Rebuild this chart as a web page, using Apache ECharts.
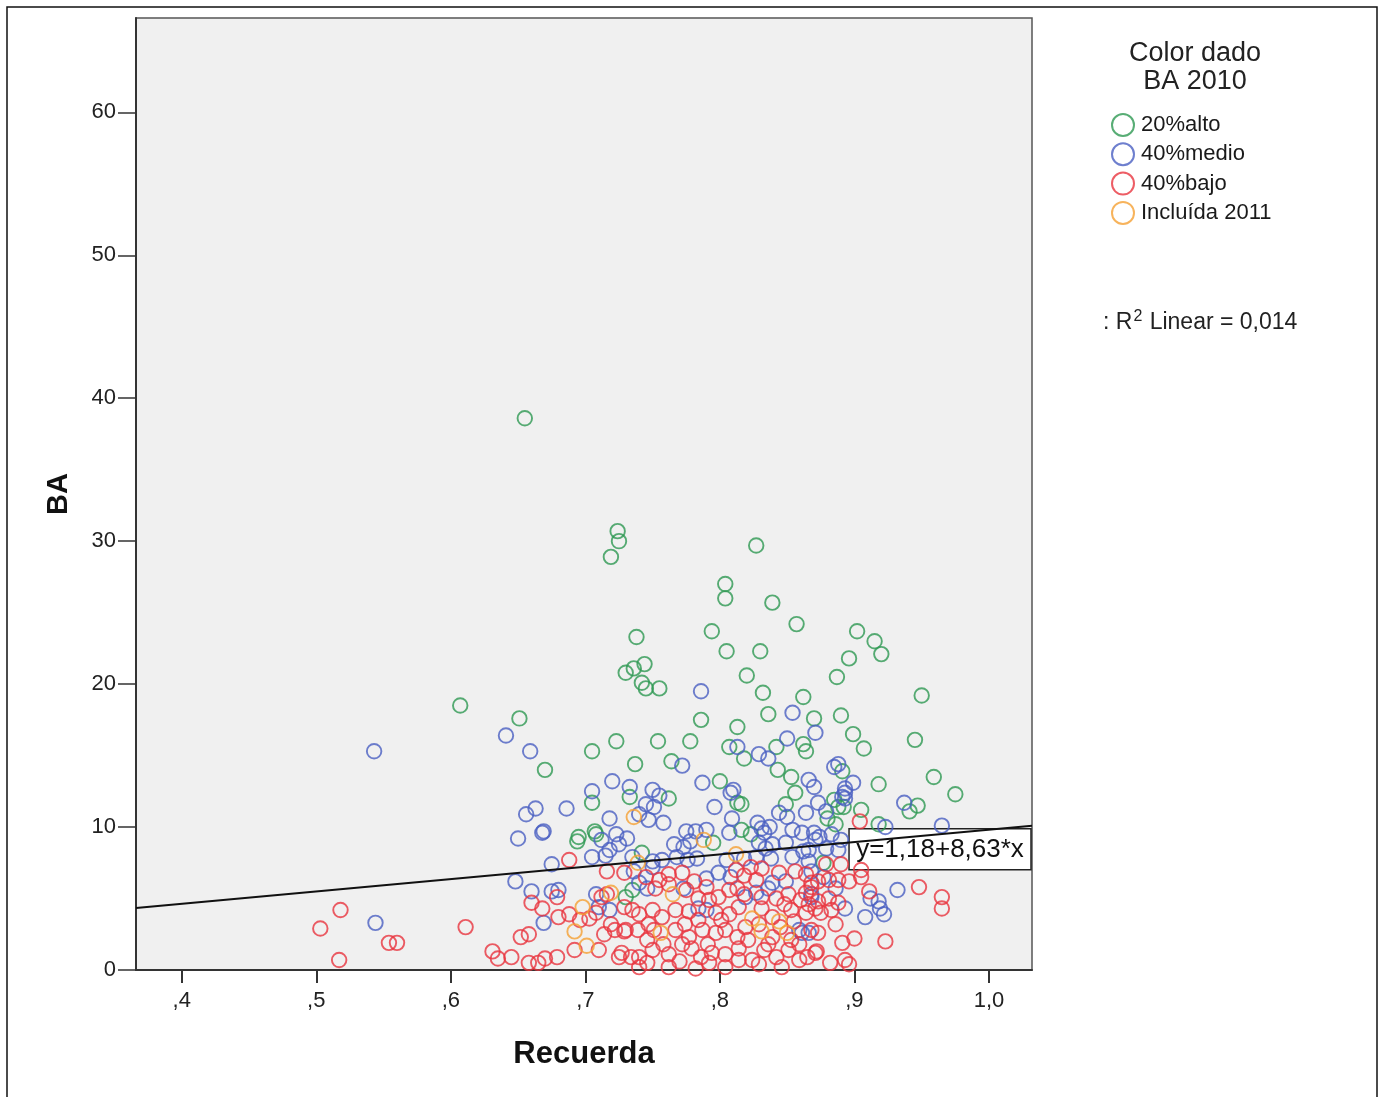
<!DOCTYPE html>
<html>
<head>
<meta charset="utf-8">
<script src="https://cdn.jsdelivr.net/npm/echarts/dist/echarts.min.js"></script>
<style>
  html, body { margin: 0; padding: 0; background: #ffffff; }
  #chart { width: 1383px; height: 1097px; }
</style>
</head>
<body>
<div id="chart"></div>
<script>
// Axis ticks and labels (Spanish decimal comma)
const xTicks = [0.4, 0.5, 0.6, 0.7, 0.8, 0.9, 1.0];
const xTickLabels = [',4', ',5', ',6', ',7', ',8', ',9', '1,0'];
const yTicks = [0, 10, 20, 30, 40, 50, 60];
const xRange = [0.366, 1.032];
const yRange = [0, 66.6];

// Groups by BA 2010
const seriesNames = ['20%alto', '40%medio', '40%bajo', 'Incluída 2011'];
const seriesColors = ['#2e9852', '#4a5fc2', '#e9353f', '#f5a033'];

// Recuerda (x) vs BA (y)
const altoPts = [
  [0.655,38.6],[0.724,30.7],[0.725,30.0],[0.719,28.9],[0.827,29.7],[0.804,27.0],[0.804,26.0],[0.839,25.7],
  [0.857,24.2],[0.794,23.7],[0.902,23.7],[0.915,23.0],[0.920,22.1],[0.738,23.3],[0.805,22.3],[0.830,22.3],
  [0.896,21.8],[0.820,20.6],[0.730,20.8],[0.736,21.1],[0.744,21.4],[0.742,20.1],[0.745,19.7],[0.755,19.7],
  [0.887,20.5],[0.832,19.4],[0.862,19.1],[0.950,19.2],[0.607,18.5],[0.651,17.6],[0.836,17.9],[0.890,17.8],
  [0.870,17.6],[0.786,17.5],[0.813,17.0],[0.723,16.0],[0.754,16.0],[0.778,16.0],[0.899,16.5],[0.907,15.5],
  [0.945,16.1],[0.807,15.6],[0.818,14.8],[0.842,15.6],[0.862,15.8],[0.864,15.3],[0.705,15.3],[0.670,14.0],
  [0.737,14.4],[0.764,14.6],[0.843,14.0],[0.853,13.5],[0.891,13.9],[0.959,13.5],[0.975,12.3],[0.918,13.0],
  [0.800,13.2],[0.856,12.4],[0.705,11.7],[0.733,12.1],[0.762,12.0],[0.813,11.7],[0.816,11.6],[0.885,11.9],
  [0.888,11.4],[0.849,11.6],[0.880,10.6],[0.886,10.2],[0.892,11.4],[0.905,11.2],[0.941,11.1],[0.947,11.5],
  [0.918,10.2],[0.695,9.3],[0.707,9.7],[0.816,9.8],[0.823,9.5],[0.795,8.9],[0.742,8.2],[0.877,7.5],
  [0.730,5.1],[0.735,5.6],[0.694,9.0],[0.708,9.5]
];

const medioPts = [
  [0.543,15.3],[0.641,16.4],[0.659,15.3],[0.656,10.9],[0.663,11.3],[0.650,9.2],[0.668,9.6],[0.675,7.4],
  [0.648,6.2],[0.660,5.5],[0.675,5.5],[0.680,5.6],[0.669,3.3],[0.544,3.3],[0.712,9.1],[0.723,9.5],
  [0.731,9.2],[0.725,8.8],[0.705,7.9],[0.715,8.0],[0.718,8.4],[0.708,5.3],[0.710,4.4],[0.718,4.2],
  [0.772,14.3],[0.787,13.1],[0.720,13.2],[0.705,12.5],[0.733,12.8],[0.750,12.6],[0.755,12.2],[0.745,11.6],
  [0.751,11.4],[0.740,10.9],[0.747,10.5],[0.758,10.3],[0.718,10.6],[0.686,11.3],[0.669,9.7],[0.775,9.7],
  [0.782,9.7],[0.786,19.5],[0.854,18.0],[0.871,16.6],[0.813,15.6],[0.850,16.2],[0.829,15.1],[0.836,14.8],
  [0.808,12.4],[0.810,12.6],[0.866,13.3],[0.870,12.8],[0.885,14.2],[0.893,12.7],[0.891,12.1],[0.888,14.4],
  [0.899,13.1],[0.893,12.4],[0.937,11.7],[0.796,11.4],[0.809,10.6],[0.844,11.0],[0.850,10.7],[0.864,11.0],
  [0.873,11.7],[0.879,11.1],[0.828,10.3],[0.831,9.9],[0.837,10.0],[0.833,9.6],[0.854,9.8],[0.861,9.6],
  [0.870,9.6],[0.874,9.3],[0.807,9.6],[0.790,9.8],[0.965,10.1],[0.923,10.0],[0.893,12.0],[0.766,8.8],
  [0.773,8.6],[0.778,9.0],[0.829,8.9],[0.834,8.5],[0.839,8.8],[0.849,8.9],[0.871,9.1],[0.735,7.9],
  [0.750,7.6],[0.757,7.7],[0.768,7.9],[0.776,7.7],[0.783,7.8],[0.805,7.7],[0.818,7.8],[0.827,7.9],
  [0.838,7.8],[0.854,7.9],[0.862,8.3],[0.736,6.9],[0.750,7.2],[0.790,6.4],[0.799,6.8],[0.808,6.5],
  [0.839,6.1],[0.849,6.2],[0.868,6.9],[0.740,6.1],[0.746,5.7],[0.773,5.7],[0.819,5.1],[0.827,5.4],
  [0.836,5.7],[0.868,5.1],[0.784,4.3],[0.790,4.2],[0.861,2.6],[0.866,8.4],[0.879,8.5],[0.888,8.4],
  [0.866,7.6],[0.877,6.5],[0.886,5.7],[0.868,5.3],[0.893,4.3],[0.859,2.8],[0.866,2.6],[0.932,5.6],
  [0.912,5.0],[0.918,4.8],[0.908,3.7],[0.922,3.9],[0.919,4.3],[0.883,9.5],[0.890,9.1]
];

const bajoPts = [
  [0.518,4.2],[0.503,2.9],[0.554,1.9],[0.560,1.9],[0.517,0.7],[0.611,3.0],[0.652,2.3],[0.658,2.5],
  [0.631,1.3],[0.635,0.8],[0.645,0.9],[0.658,0.5],[0.665,0.5],[0.670,0.8],[0.679,0.9],[0.660,4.7],
  [0.668,4.3],[0.688,7.7],[0.716,6.9],[0.729,6.8],[0.679,5.1],[0.680,3.7],[0.688,3.9],[0.696,3.5],
  [0.703,3.6],[0.712,5.1],[0.716,5.3],[0.708,4.0],[0.692,1.4],[0.722,2.8],[0.729,2.7],[0.725,0.9],
  [0.734,0.9],[0.745,6.5],[0.762,6.7],[0.772,6.8],[0.781,6.2],[0.812,7.0],[0.823,7.2],[0.831,7.1],
  [0.844,6.8],[0.856,6.9],[0.868,6.1],[0.752,5.7],[0.762,6.0],[0.775,5.6],[0.790,5.8],[0.799,5.1],
  [0.807,5.6],[0.813,5.7],[0.831,5.1],[0.842,5.0],[0.851,5.3],[0.864,5.4],[0.729,4.4],[0.735,4.2],
  [0.740,3.9],[0.750,4.2],[0.757,3.7],[0.767,4.2],[0.777,4.1],[0.797,4.0],[0.807,3.9],[0.814,4.4],
  [0.831,4.3],[0.839,3.7],[0.853,4.2],[0.864,4.0],[0.871,4.3],[0.730,2.8],[0.739,2.8],[0.747,3.2],
  [0.767,2.8],[0.777,2.3],[0.787,2.8],[0.797,2.6],[0.804,2.8],[0.813,2.3],[0.819,3.0],[0.839,2.3],
  [0.853,2.1],[0.868,2.8],[0.727,1.2],[0.740,0.9],[0.750,1.4],[0.762,1.1],[0.770,0.6],[0.779,1.5],
  [0.786,0.9],[0.794,1.2],[0.804,1.1],[0.814,1.5],[0.824,0.7],[0.833,1.4],[0.842,0.9],[0.851,1.4],
  [0.859,0.7],[0.871,1.2],[0.740,0.2],[0.762,0.2],[0.782,0.1],[0.804,0.2],[0.829,0.4],[0.846,0.2],
  [0.864,6.7],[0.868,5.8],[0.873,6.2],[0.881,6.3],[0.888,6.3],[0.896,6.2],[0.905,6.5],[0.890,7.4],
  [0.879,7.4],[0.860,4.9],[0.866,4.6],[0.873,4.8],[0.881,5.0],[0.888,4.7],[0.875,4.0],[0.883,4.2],
  [0.873,2.6],[0.886,3.2],[0.859,1.8],[0.872,1.3],[0.891,1.9],[0.900,2.2],[0.882,0.5],[0.893,0.7],
  [0.911,5.5],[0.948,5.8],[0.965,5.1],[0.965,4.3],[0.923,2.0],[0.904,10.4],[0.905,7.0],[0.784,5.0],
  [0.818,6.6],[0.827,6.3],[0.755,6.3],[0.719,3.2],[0.746,2.1],[0.758,1.8],[0.772,1.8],[0.791,1.8],
  [0.801,3.5],[0.821,2.1],[0.829,3.2],[0.845,3.0],[0.855,3.4],[0.784,3.5],[0.774,3.2],[0.792,4.9],
  [0.818,5.3],[0.848,4.6],[0.751,2.8],[0.714,2.5],[0.710,1.4],[0.746,0.5],[0.792,0.5],[0.814,0.7],
  [0.836,1.8],[0.865,0.9],[0.896,0.4]
];

const incluidaPts = [
  [0.736,10.7],[0.788,9.1],[0.812,8.1],[0.739,7.5],[0.765,5.3],[0.698,4.4],[0.719,5.4],[0.692,2.7],
  [0.701,1.7],[0.756,2.6],[0.824,3.6],[0.844,3.4],[0.831,2.7],[0.850,2.6]
];

// Linear fit
const fitIntercept = 1.18;
const fitSlope = 8.63;
const r2Linear = 0.014;

const FONT = '"Liberation Sans", Arial, sans-serif';
const fmtComma = (v, d) => v.toFixed(d).replace('.', ',');
const fitAt = x => fitIntercept + fitSlope * x;

const chart = echarts.init(document.getElementById('chart'), null, { renderer: 'canvas' });

const pointSets = [altoPts, medioPts, bajoPts, incluidaPts];
const scatterSeries = pointSets.map((pts, i) => ({
  name: seriesNames[i],
  type: 'scatter',
  data: pts,
  symbol: 'circle',
  symbolSize: 14.5,
  itemStyle: { color: 'transparent', borderColor: seriesColors[i], borderWidth: 1.9 },
  emphasis: { disabled: true },
  z: 2 + i
}));

const staticGraphics = [
  { type: 'rect', shape: { x: 7, y: 7, width: 1370, height: 1100 },
    style: { fill: 'none', stroke: '#111', lineWidth: 1.5 }, silent: true },
  { type: 'text', x: 1195, y: 54,
    style: { text: 'Color dado', fontSize: 27, fill: '#222', fontFamily: FONT, align: 'center', verticalAlign: 'middle' } },
  { type: 'text', x: 1195, y: 82,
    style: { text: 'BA 2010', fontSize: 27, fill: '#222', fontFamily: FONT, align: 'center', verticalAlign: 'middle' } },
  { type: 'text', x: 1103, y: 323,
    style: {
      text: '{a|: R}{s|2}{a| Linear = ' + fmtComma(r2Linear, 3) + '}',
      verticalAlign: 'middle',
      rich: {
        a: { fontSize: 23, fill: '#222', fontFamily: FONT },
        s: { fontSize: 16, fill: '#222', fontFamily: FONT, padding: [0, 1, 12, 1] }
      }
    } }
];

const option = {
  backgroundColor: '#ffffff',
  animation: false,
  textStyle: { fontFamily: FONT },
  grid: {
    left: 136, right: 351, top: 18, bottom: 127,
    show: true, backgroundColor: '#f0f0f0', borderColor: '#555555', borderWidth: 1.5
  },
  xAxis: {
    type: 'value', min: xRange[0], max: xRange[1],
    name: 'Recuerda', nameLocation: 'middle', nameGap: 69,
    nameTextStyle: { fontSize: 31, fontWeight: 'bold', color: '#111', fontFamily: FONT },
    axisLine: { show: true, onZero: false, lineStyle: { color: '#333', width: 2 } },
    axisTick: { show: true, customValues: xTicks, length: 13, lineStyle: { color: '#333', width: 2 } },
    axisLabel: {
      customValues: xTicks, margin: 20, fontSize: 22, color: '#222', fontFamily: FONT,
      formatter: v => xTickLabels[xTicks.findIndex(t => Math.abs(t - v) < 1e-6)]
    },
    splitLine: { show: false }
  },
  yAxis: {
    type: 'value', min: yRange[0], max: yRange[1],
    name: 'BA', nameLocation: 'middle', nameGap: 63, nameRotate: 90,
    nameTextStyle: { fontSize: 29, fontWeight: 'bold', color: '#111', fontFamily: FONT },
    axisLine: { show: true, onZero: false, lineStyle: { color: '#333', width: 2 } },
    axisTick: { show: true, customValues: yTicks, length: 18, lineStyle: { color: '#333', width: 1.5 } },
    axisLabel: { customValues: yTicks, margin: 20, fontSize: 22, color: '#222', fontFamily: FONT },
    splitLine: { show: false }
  },
  legend: {
    orient: 'vertical', left: 1106, top: 108,
    itemWidth: 22, itemHeight: 22, itemGap: 5.3, icon: 'circle',
    textStyle: { fontSize: 22, color: '#1a1a1a', fontFamily: FONT, padding: [0, 0, 0, 2] },
    selectedMode: false,
    data: seriesNames.map((n, i) => ({
      name: n,
      itemStyle: { color: 'transparent', borderColor: seriesColors[i], borderWidth: 2 }
    }))
  },
  series: [
    ...scatterSeries,
    {
      name: 'fit',
      type: 'line',
      data: [[xRange[0], fitAt(xRange[0])], [xRange[1], fitAt(xRange[1])]],
      symbol: 'none',
      lineStyle: { color: '#111', width: 2 },
      silent: true,
      z: 10
    }
  ],
  graphic: staticGraphics
};

chart.setOption(option);

// Equation box anchored on the plot coordinates
const boxAnchor = chart.convertToPixel({ gridIndex: 0 }, [0.896, 8.44]);
const boxRight = chart.convertToPixel({ gridIndex: 0 }, [xRange[1], 0])[0];
const boxW = boxRight - boxAnchor[0] - 1;
const boxH = 41;
chart.setOption({
  graphic: [
    ...staticGraphics,
    { type: 'group', x: boxAnchor[0], y: boxAnchor[1] - boxH / 2, z: 100,
      children: [
        { type: 'rect', shape: { x: 0, y: 0, width: boxW, height: boxH },
          style: { fill: '#ffffff', stroke: '#222', lineWidth: 1.5 } },
        { type: 'text', x: boxW / 2, y: boxH / 2,
          style: {
            text: 'y=' + fmtComma(fitIntercept, 2) + '+' + fmtComma(fitSlope, 2) + '*x',
            fontSize: 26, fill: '#111', fontFamily: FONT, align: 'center', verticalAlign: 'middle'
          } }
      ] }
  ]
}, { replaceMerge: ['graphic'] });
</script>
</body>
</html>
